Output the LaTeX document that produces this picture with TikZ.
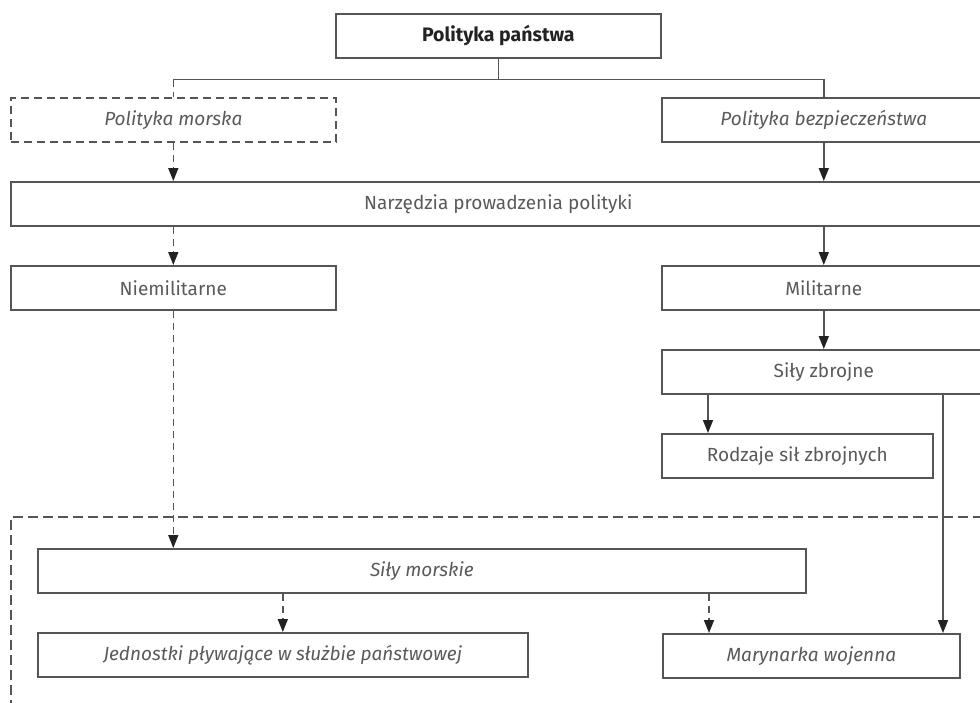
\documentclass[tikz,border=0pt]{standalone}
\usepackage{fontspec}
\setmainfont{Fira Sans}
\usetikzlibrary{arrows.meta}
\definecolor{linegray}{HTML}{555555}
\definecolor{textgray}{HTML}{5A5A5A}
\definecolor{tipblack}{HTML}{222222}
\begin{document}
\begin{tikzpicture}[x=1pt,y=-1pt,
  box/.style={draw=linegray, line width=1.6pt, fill=white, minimum height=44pt,
    inner sep=0pt, text=textgray, font=\fontsize{19}{22}\selectfont, anchor=north west},
  dbox/.style={box, dash pattern=on 8pt off 5pt},
  link/.style={draw=linegray, line width=1.6pt},
  dlink/.style={link, dash pattern=on 7pt off 5pt},
  tip/.style={-{Triangle[length=13pt,width=10pt,fill=tipblack,color=tipblack]}},
]
\useasboundingbox (0,0) rectangle (980,702);

% region of maritime forces
\draw[draw=linegray, line width=1.6pt, dash pattern=on 10pt off 5pt]
  (11,710) -- (11,517) -- (990,517);

% boxes
\node[box, minimum width=325pt, text=tipblack, font=\fontsize{19.5}{22}\selectfont]
  (ps) at (335,13) {\textbf{Polityka państwa}};
\node[dbox, minimum width=325pt] (pm) at (10,97) {\textit{Polityka morska}};
\node[box, minimum width=324pt] (pb) at (661,97) {\textit{Polityka bezpieczeństwa}};
\node[box, minimum width=975pt] (nar) at (10,181) {Narzędzia prowadzenia polityki};
\node[box, minimum width=325pt] (nm) at (10,265) {Niemilitarne};
\node[box, minimum width=324pt] (mil) at (661,265) {Militarne};
\node[box, minimum width=324pt] (sz) at (661,349) {Siły zbrojne};
\node[box, minimum width=271pt] (rsz) at (661,433) {Rodzaje sił zbrojnych};
\node[box, minimum width=768pt] (sm) at (37,548) {\textit{Siły morskie}};
\node[box, minimum width=490pt] (jp) at (37,632) {\textit{Jednostki pływające w służbie państwowej}};
\node[box, minimum width=297pt] (mw) at (662,633) {\textit{Marynarka wojenna}};

% branching from the state policy
\draw[link] (ps.south) -- ++(0,21) coordinate (j);
\coordinate (jl) at (pm.north |- j);
\draw[link] (jl) -| (pb.north);
\draw[dlink] (jl) -- (pm.north);

% arrows
\draw[dlink, tip] (pm.south) -- (pm.south |- nar.north);
\draw[link, tip] (pb.south) -- (pb.south |- nar.north);
\draw[dlink, tip] (nm.north |- nar.south) -- (nm.north);
\draw[link, tip] (mil.north |- nar.south) -- (mil.north);
\draw[dlink, tip] (nm.south) -- (nm.south |- sm.north);
\draw[link, tip] (mil.south) -- (sz.north);
\draw[link, tip] (sz.south -| 708,0) -- (708,0 |- rsz.north);
\draw[link, tip] (sz.south -| 943,0) -- (943,0 |- mw.north);
\draw[dlink, tip] (sm.south -| jp.north) -- (jp.north);
\draw[dlink, tip] (sm.south -| 709,0) -- (709,0 |- mw.north);
\end{tikzpicture}
\end{document}
